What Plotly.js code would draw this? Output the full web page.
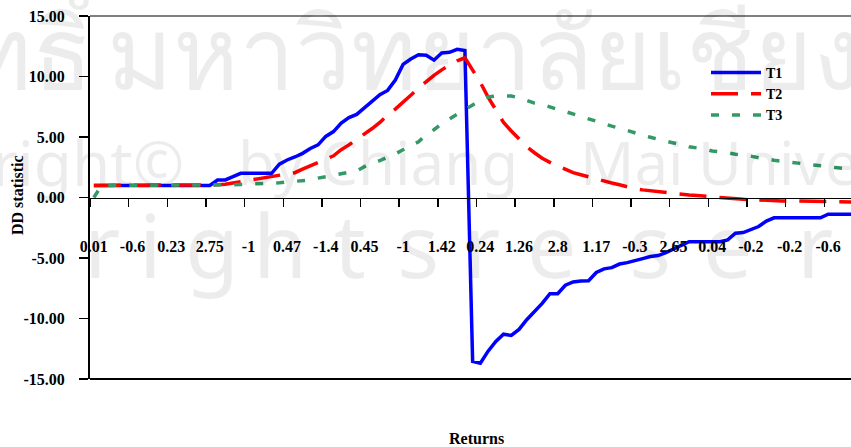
<!DOCTYPE html>
<html>
<head>
<meta charset="utf-8">
<script src="https://cdn.plot.ly/plotly-3.0.1.min.js"></script>
<style>html,body{margin:0;padding:0;background:#fff;}</style>
</head>
<body>
<div id="chart" style="width:851px;height:447px;"></div>
<script>
// ---- data ----
const tickLabels = ["0.01","-0.6","0.23","2.75","-1","0.47","-1.4","0.45","-1","1.42",
                    "0.24","1.26","2.8","1.17","-0.3","2.65","0.04","-0.2","-0.2","-0.6"];
const labelEvery = 5;

const t1 = [1.0,1.0,1.0,1.0,1.0,1.0,1.0,1.0,1.0,1.0,1.0,1.0,1.0,1.0,1.0,1.0,
  1.45,1.45,1.72,2.0,2.0,2.0,2.0,2.0,2.75,3.1,3.35,3.65,4.05,4.35,5.05,5.45,6.15,6.6,6.87,
  7.4,7.95,8.5,8.85,9.7,11.0,11.45,11.8,11.75,11.35,11.95,12.0,12.25,12.15,
  -13.55,-13.7,-12.7,-11.9,-11.3,-11.4,-10.9,-10.1,-9.45,-8.75,-7.95,-7.95,-7.25,-6.98,-6.9,-6.88,
  -6.2,-5.9,-5.8,-5.5,-5.38,-5.25,-5.05,-4.88,-4.8,-4.55,-4.25,-3.9,-3.65,-3.65,-3.65,-3.65,-3.65,
  -3.5,-2.95,-2.9,-2.65,-2.4,-1.95,-1.68,-1.68,-1.68,-1.68,-1.68,-1.68,-1.68,-1.38,-1.38,-1.38,-1.38];

const t2 = [1.0,1.0,1.0,1.0,1.0,1.0,1.0,1.0,1.0,1.0,1.0,1.0,1.0,1.0,1.0,1.0,
  1.05,1.1,1.2,1.3,1.4,1.5,1.6,1.75,1.87,1.95,2.05,2.35,2.6,2.9,3.15,3.45,3.95,4.35,4.8,
  5.2,5.7,6.2,6.8,7.3,7.85,8.45,9.05,9.6,10.1,10.55,10.95,11.3,11.55,
  10.5,9.5,8.3,7.2,6.2,5.5,4.8,4.2,3.7,3.25,2.9,2.6,2.27,2.05,1.88,1.7,
  1.5,1.35,1.2,1.05,0.88,0.72,0.63,0.55,0.48,0.4,0.3,0.23,0.2,0.16,0.1,0.03,-0.03,
  -0.07,-0.12,-0.15,-0.18,-0.22,-0.25,-0.27,-0.28,-0.28,-0.29,-0.29,-0.28,-0.3,-0.32,-0.34,-0.37,-0.38];

const t3 = [0.0,1.0,1.0,1.0,1.0,1.0,1.0,1.0,1.0,1.0,1.0,1.0,1.0,1.0,1.0,1.0,1.0,1.0,
  1.05,1.08,1.1,1.12,1.15,1.2,1.22,1.28,1.33,1.38,1.45,1.6,1.72,1.78,1.95,2.06,2.2,
  2.55,2.85,3.05,3.3,3.6,3.95,4.25,4.6,5.2,5.6,6.1,6.5,6.9,7.3,
  7.65,8.0,8.3,8.39,8.4,8.38,8.25,8.05,7.8,7.7,7.45,7.27,7.1,6.9,6.72,6.5,
  6.3,6.05,5.9,5.73,5.52,5.35,5.15,4.98,4.8,4.68,4.5,4.42,4.2,4.1,4.02,3.84,3.78,
  3.7,3.57,3.5,3.42,3.28,3.15,3.08,3.0,2.93,2.85,2.75,2.7,2.6,2.52,2.47,2.38,2.32];

const yTickVals = [15,10,5,0,-5,-10,-15];
const yTickText = ["15.00","10.00","5.00","0.00","-5.00","-10.00","-15.00"];

// ---- build ----
const idx = t1.map((_, i) => i);
const labelPos = tickLabels.map((_, k) => k * labelEvery);
const boundaryPos = tickLabels.map((_, k) => k * labelEvery - 0.5);

const serif = "Liberation Serif, 'Times New Roman', serif";
const wm = 'rgba(0,0,0,0.075)';
const wmFont = "'Noto Sans', 'DejaVu Sans', sans-serif";

const traces = [
  {x: idx, y: t1, name: 'T1', type: 'scatter', mode: 'lines',
   line: {color: '#0000FF', width: 3.5}},
  {x: idx, y: t2, name: 'T2', type: 'scatter', mode: 'lines',
   line: {color: '#FF0000', width: 3.5, dash: '27px,13px'}},
  {x: idx, y: t3, name: 'T3', type: 'scatter', mode: 'lines',
   line: {color: '#339966', width: 3.5, dash: '8px,13px'}}
];

const px = v => (v - 90) / 761;
const py = v => (379 - v) / 363;

const annotations = [
  {text: 'Returns', xref: 'paper', yref: 'paper', x: px(476), y: py(439),
   showarrow: false, xanchor: 'center', yanchor: 'middle',
   font: {family: serif, size: 16, weight: 'bold', color: '#000'}},
  {text: 'DD statistic', xref: 'paper', yref: 'paper', x: px(17), y: py(195),
   textangle: -90, showarrow: false, xanchor: 'center', yanchor: 'middle',
   font: {family: serif, size: 16, weight: 'bold', color: '#000'}},
  // watermark
  {text: 'ลิขสิทธิ์', xref: 'paper', yref: 'paper', x: px(103), y: py(50), showarrow: false,
   xanchor: 'right', yanchor: 'middle', font: {family: wmFont, size: 100, color: wm}},
  {text: 'มหาวิทยาลัยเชียงใหม่', xref: 'paper', yref: 'paper', x: px(105), y: py(50), showarrow: false,
   xanchor: 'left', yanchor: 'middle', font: {family: wmFont, size: 100, color: wm}},
  {text: 'Copyright©', xref: 'paper', yref: 'paper', x: px(186), y: py(162), showarrow: false,
   xanchor: 'right', yanchor: 'middle', font: {family: wmFont, size: 62, color: wm}},
  {text: 'by', xref: 'paper', yref: 'paper', x: px(236), y: py(162), showarrow: false,
   xanchor: 'left', yanchor: 'middle', font: {family: wmFont, size: 60, color: wm}},
  {text: 'Chiang', xref: 'paper', yref: 'paper', x: px(318), y: py(162), showarrow: false,
   xanchor: 'left', yanchor: 'middle', font: {family: wmFont, size: 60, color: wm}},
  {text: 'Mai', xref: 'paper', yref: 'paper', x: px(578), y: py(162), showarrow: false,
   xanchor: 'left', yanchor: 'middle', font: {family: wmFont, size: 60, color: wm}},
  {text: 'University', xref: 'paper', yref: 'paper', x: px(696), y: py(162), showarrow: false,
   xanchor: 'left', yanchor: 'middle', font: {family: wmFont, size: 60, color: wm}}
];

const wmLetters = ['r','i','g','h','t','s','r','e','s','e','r','v'];
const wmLetterX = [102,150,212,280,350,418,482,552,650,728,815,900];
wmLetters.forEach((ch, k) => {
  annotations.push({text: ch, xref: 'paper', yref: 'paper', x: px(wmLetterX[k]), y: py(244),
    showarrow: false, xanchor: 'center', yanchor: 'middle',
    font: {family: wmFont, size: 88, color: wm}});
});

const layout = {
  width: 851, height: 447,
  margin: {l: 90, r: 0, t: 16, b: 68, pad: 0},
  paper_bgcolor: '#ffffff',
  plot_bgcolor: 'rgba(0,0,0,0)',
  font: {family: serif, size: 16, color: '#000'},
  showlegend: true,
  legend: {x: px(706), y: py(57), xanchor: 'left', yanchor: 'top',
    bgcolor: 'rgba(0,0,0,0)', borderwidth: 0, itemwidth: 50, tracegroupgap: 0,
    font: {family: serif, size: 14, weight: 'bold', color: '#000'}},
  xaxis: {
    range: [-0.5, 97.95], anchor: 'free', position: 0.5,
    tickmode: 'array', tickvals: labelPos, ticktext: tickLabels,
    ticks: '', showline: true, linecolor: '#000', linewidth: 1.5,
    showgrid: false, zeroline: false, ticklabelstandoff: 34,
    tickfont: {family: serif, size: 16, weight: 'bold', color: '#000'},
    minor: {tickmode: 'array', tickvals: boundaryPos, ticks: 'outside', ticklen: 8,
            tickwidth: 1.5, tickcolor: '#000', showgrid: false}
  },
  yaxis: {
    range: [-15, 15], tickmode: 'array', tickvals: yTickVals, ticktext: yTickText,
    ticks: 'outside', ticklen: 9, tickwidth: 1.5, tickcolor: '#000',
    showline: true, linecolor: '#000', linewidth: 2,
    showgrid: false, zeroline: false, ticklabelstandoff: 11,
    tickfont: {family: serif, size: 16, weight: 'bold', color: '#000'}
  },
  shapes: [
    {type: 'line', xref: 'paper', yref: 'paper', x0: 0, x1: 1, y0: 1, y1: 1,
     line: {color: '#555', width: 1.5}},
    {type: 'line', xref: 'paper', yref: 'paper', x0: 0, x1: 1, y0: 0, y1: 0,
     line: {color: '#000', width: 2}}
  ],
  annotations: annotations
};

Plotly.newPlot('chart', traces, layout, {displayModeBar: false, staticPlot: true});
</script>
</body>
</html>
